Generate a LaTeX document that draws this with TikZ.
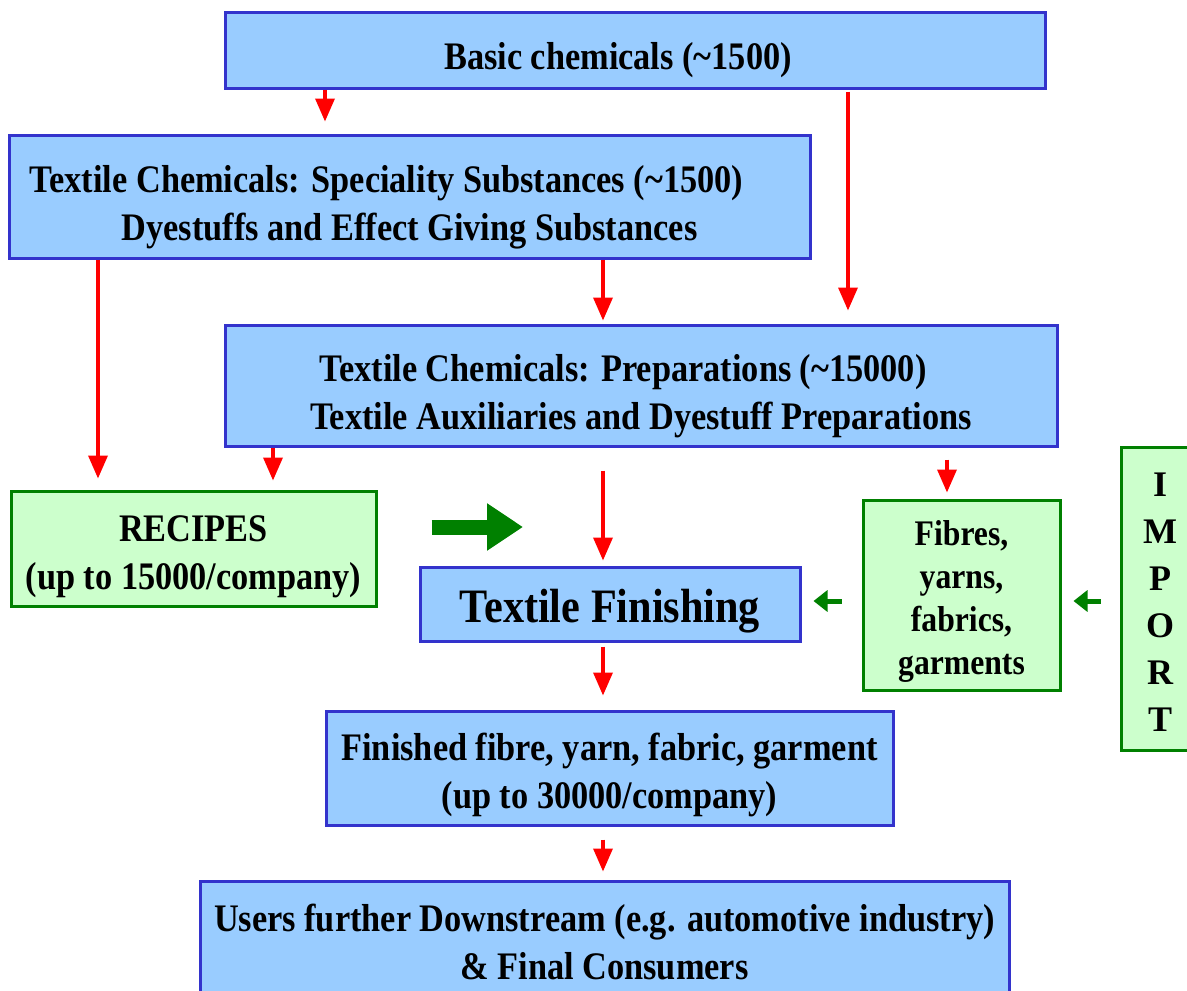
\documentclass[tikz,border=0pt]{standalone}
\usepackage{fontspec}
\setmainfont{Liberation Serif}[FakeStretch=0.88]
\newfontfamily\letterfont{Liberation Serif}
\usetikzlibrary{arrows.meta}

\definecolor{boxblue}{HTML}{99CCFF}
\definecolor{edgeblue}{HTML}{3333CC}
\definecolor{boxgreen}{HTML}{CCFFCC}
\definecolor{edgegreen}{HTML}{008000}
\definecolor{flowred}{HTML}{FF0000}
\definecolor{flowgreen}{HTML}{008000}

% a tall invisible strut on a first line sets the text a little low in its box
\newcommand\lowstrut[1]{\rule{0pt}{#1}}

\begin{document}
\begin{tikzpicture}[x=1pt, y=-1pt,
  panel/.style={line width=3pt, inner sep=0pt, align=center},
  bluebox/.style={panel, draw=edgeblue, fill=boxblue,
    font=\fontsize{39}{48}\selectfont\bfseries},
  greenbox/.style={panel, draw=edgegreen, fill=boxgreen,
    font=\fontsize{39}{48}\selectfont\bfseries},
  redflow/.style={draw=flowred, line width=3.5pt,
    -{Triangle[width=19pt,length=23pt]}},
  bigflow/.style={draw=flowgreen, line width=15pt,
    -{Triangle[width=45pt,length=36pt]}},
  smallflow/.style={draw=flowgreen, line width=5pt,
    -{Triangle[width=21pt,length=14pt]}}
]
\useasboundingbox (0,0) rectangle (1187,991);

% supply chain boxes
\node[bluebox, minimum width=820pt, minimum height=76pt] (basic) at (635,50)
  {\lowstrut{48pt}Basic chemicals (\textasciitilde1500)\hspace*{34pt}};
\node[bluebox, minimum width=801pt, minimum height=123pt] (spec) at (409.5,196.5)
  {\lowstrut{48pt}Textile Chemicals: Speciality Substances (\textasciitilde1500)\hspace*{46pt}\\
   Dyestuffs and Effect Giving Substances};
\node[bluebox, minimum width=832pt, minimum height=121pt] (prep) at (641,385.5)
  {\lowstrut{48pt}Textile Chemicals: Preparations (\textasciitilde15000)\hspace*{36pt}\\
   Textile Auxiliaries and Dyestuff Preparations};
\node[greenbox, minimum width=365pt, minimum height=115pt] (recipes) at (193.5,548.5)
  {\lowstrut{42pt}RECIPES\\(up to 15000/company)};
\node[bluebox, minimum width=380pt, minimum height=74pt,
  font=\fontsize{48}{56}\selectfont\bfseries] (finishing) at (610,604)
  {\lowstrut{48pt}Textile Finishing};
\node[greenbox, minimum width=197pt, minimum height=190pt,
  font=\fontsize{36}{43}\selectfont\bfseries] (fibres) at (961.5,595)
  {\lowstrut{38pt}Fibres,\\yarns,\\fabrics,\\garments};
\node[greenbox, minimum width=78pt, minimum height=303pt,
  font=\letterfont\fontsize{36}{47}\selectfont\bfseries] (import) at (1160,598.5)
  {\lowstrut{30pt}I\\M\\P\\O\\R\\T};
\node[bluebox, minimum width=567pt, minimum height=114pt] (finished) at (609.5,768)
  {\lowstrut{41pt}Finished fibre, yarn, fabric, garment\\(up to 30000/company)};
\node[bluebox, minimum width=809pt, minimum height=114pt] (users) at (604.5,938)
  {\lowstrut{36pt}Users further Downstream (e.g. automotive industry)\\\& Final Consumers};

% vertical lanes of the red flows
\coordinate (lanea) at (325,0);
\coordinate (laneb) at (848,0);
\coordinate (lanec) at (98,0);
\coordinate (laned) at (603,0);
\coordinate (lanee) at (273,0);
\coordinate (lanef) at (947,0);

\draw[redflow, shorten >=12pt] (basic.south -| lanea) -- (spec.north -| lanea);
\draw[redflow, shorten <=2pt, shorten >=13pt] (basic.south -| laneb) -- (prep.north -| laneb);
\draw[redflow, shorten >=11pt] (spec.south -| lanec) -- (recipes.north -| lanec);
\draw[redflow, shorten >=3pt] (spec.south -| laned) -- (prep.north -| laned);
\draw[redflow, shorten >=9pt] (prep.south -| lanee) -- (recipes.north -| lanee);
\draw[redflow, shorten <=12pt, shorten >=6pt] (prep.south -| lanef) -- (fibres.north -| lanef);
\draw[redflow, shorten <=23pt, shorten >=5pt] (prep.south -| laned) -- (finishing.north -| laned);
\draw[redflow, shorten <=4pt, shorten >=14pt] (finishing.south -| laned) -- (finished.north -| laned);
\draw[redflow, shorten <=13pt, shorten >=8pt] (finished.south -| laned) -- (users.north -| laned);

% green flows
\coordinate (bigtip) at (523,527);
\draw[bigflow, shorten <=54pt] (recipes.east |- bigtip) -- (bigtip);

\coordinate (greenrow) at (0,601);
\draw[smallflow, shorten <=20pt, shorten >=12pt] (fibres.west |- greenrow) -- (finishing.east |- greenrow);
\draw[smallflow, shorten <=19pt, shorten >=12pt] (import.west |- greenrow) -- (fibres.east |- greenrow);
\end{tikzpicture}
\end{document}
